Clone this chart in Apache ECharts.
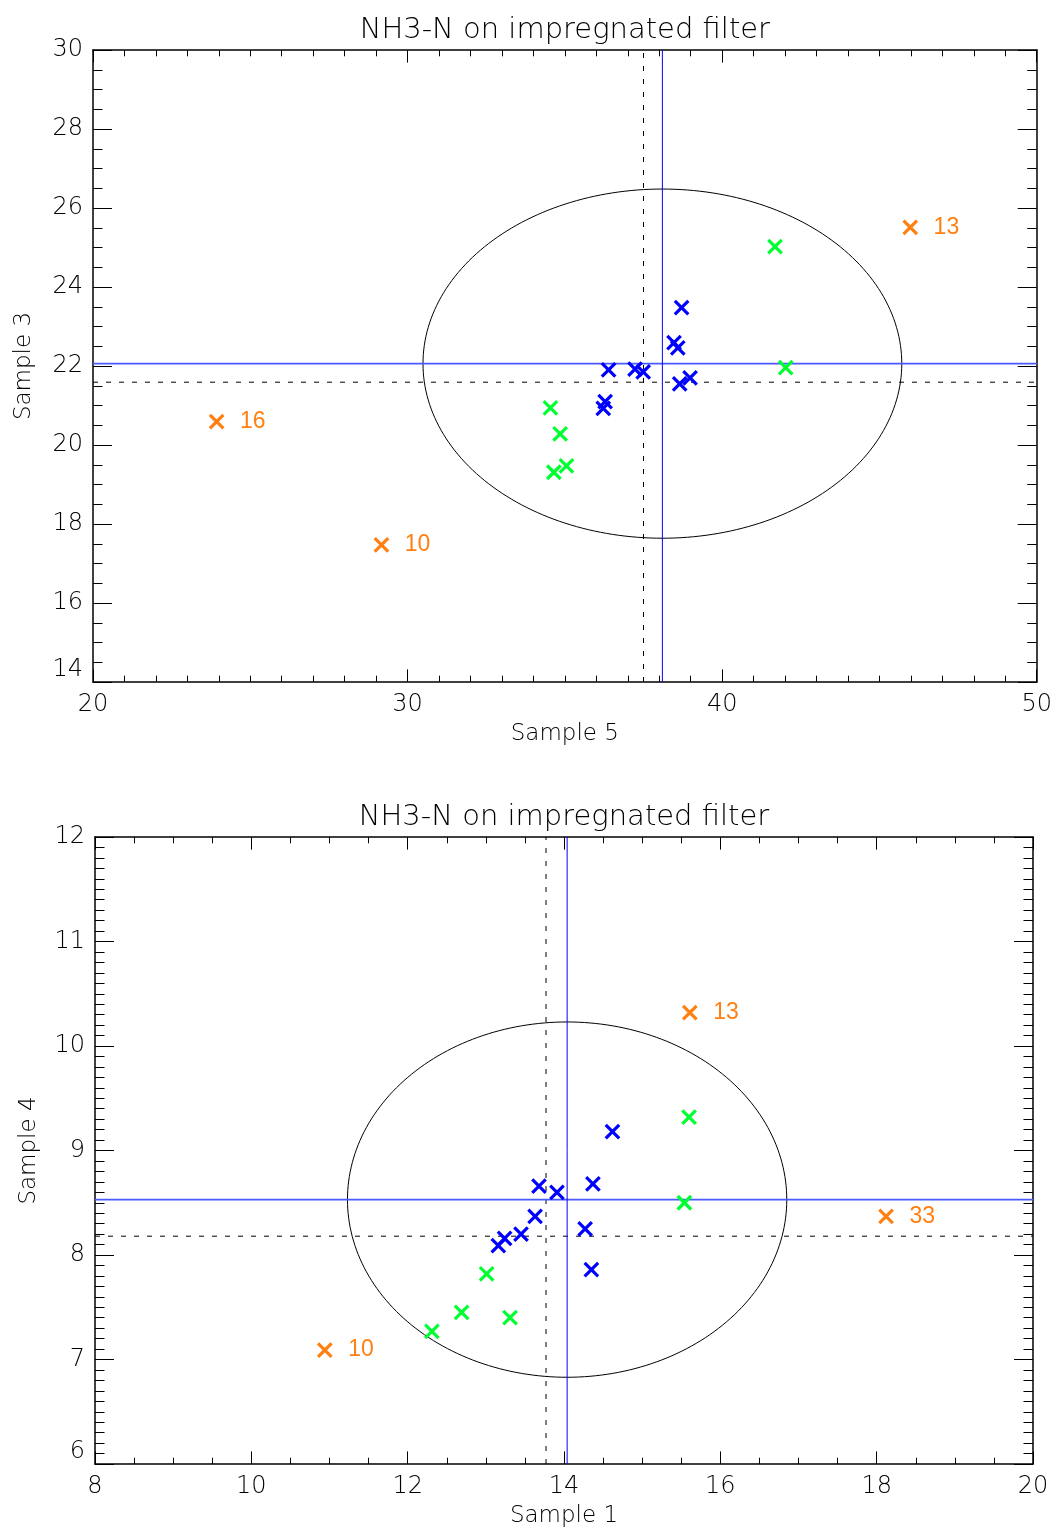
<!DOCTYPE html>
<html>
<head>
<meta charset="utf-8">
<script src="https://cdn.jsdelivr.net/npm/echarts@6/dist/echarts.min.js"></script>
<style>
  html, body { margin: 0; padding: 0; background: #fff; }
  #chart { width: 1055px; height: 1529px; }
</style>
</head>
<body>
<div id="chart"></div>
<script>
// ---- Panel 1: Sample 5 (x) vs Sample 3 (y) ----
const topXRange = [20, 50];
const topYRange = [14, 30];
const topBlueX = [38.71, 38.47, 38.59, 36.39, 37.23, 37.49, 38.98, 38.65, 36.28, 36.22];
const topBlueY = [23.48, 22.59, 22.46, 21.90, 21.92, 21.85, 21.70, 21.55, 21.10, 20.93];
const topGreenX = [41.68, 42.02, 34.54, 34.85, 34.65, 35.05];
const topGreenY = [25.02, 21.96, 20.94, 20.28, 19.31, 19.47];
const topOrangeX = [45.98, 23.93, 29.17];
const topOrangeY = [25.51, 20.59, 17.47];
const topOrangeId = ['13', '16', '10'];
const topSolid = [38.10, 22.06];   // blue cross-hair (x, y)
const topDashed = [37.50, 21.59];  // dashed cross-hair (x, y)
const topRadius = [7.61, 4.42];    // ellipse half-axes around the blue cross-hair

// ---- Panel 2: Sample 1 (x) vs Sample 4 (y) ----
const botXRange = [8, 20];
const botYRange = [6, 12];
const botBlueX = [14.62, 13.68, 13.91, 14.37, 13.63, 13.45, 13.24, 13.16, 14.27, 14.35];
const botBlueY = [9.18, 8.66, 8.60, 8.68, 8.37, 8.20, 8.16, 8.09, 8.25, 7.86];
const botGreenX = [15.60, 15.54, 13.01, 12.69, 13.31, 12.31];
const botGreenY = [9.32, 8.50, 7.82, 7.45, 7.40, 7.27];
const botOrangeX = [15.61, 18.12, 10.94];
const botOrangeY = [10.32, 8.37, 7.09];
const botOrangeId = ['13', '33', '10'];
const botSolid = [14.04, 8.53];
const botDashed = [13.77, 8.18];
const botRadius = [2.81, 1.70];

const titleText = 'NH3-N on impregnated filter';
const FONT = '"DejaVu Sans", sans-serif';
const BLUE = '#0000ff';
const GREEN = '#00ff30';
const ORANGE = '#ff7f10';

const zip = (xs, ys) => xs.map((x, i) => [x, ys[i]]);

function axis(grid, range, interval, split, len, minorLen, position, opts) {
  const a = {
    type: 'value', gridIndex: grid, position: position,
    min: range[0], max: range[1], interval: interval,
    axisLine: { show: true, onZero: false, lineStyle: { color: '#000', width: 1.5 } },
    axisTick: { show: true, inside: true, length: len, lineStyle: { color: '#000', width: 1 } },
    minorTick: { show: true, splitNumber: split, length: minorLen, lineStyle: { color: '#000', width: 1 } },
    splitLine: { show: false },
    axisLabel: { show: false }
  };
  return Object.assign(a, opts || {});
}

const labelStyle = { show: true, color: '#000', fontFamily: FONT, fontSize: 24, fontWeight: 200 };
const nameStyle = { color: '#000', fontFamily: FONT, fontSize: 23, fontWeight: 200 };
const titleStyle = { color: '#000', fontFamily: FONT, fontSize: 29, fontWeight: 200 };

const xAxes = [
  axis(0, topXRange, 10, 10, 12.6, 6.3, 'bottom', {
    name: 'Sample 5', nameLocation: 'middle', nameGap: 41, nameTextStyle: nameStyle,
    axisLabel: Object.assign({ margin: 11 }, labelStyle)
  }),
  axis(0, topXRange, 10, 10, 12.6, 6.3, 'top', {
    name: titleText, nameLocation: 'middle', nameGap: 5, nameTextStyle: titleStyle
  }),
  axis(1, botXRange, 2, 4, 12.6, 6.3, 'bottom', {
    name: 'Sample 1', nameLocation: 'middle', nameGap: 41, nameTextStyle: nameStyle,
    axisLabel: Object.assign({ margin: 11 }, labelStyle)
  }),
  axis(1, botXRange, 2, 4, 12.6, 6.3, 'top', {
    name: titleText, nameLocation: 'middle', nameGap: 5, nameTextStyle: titleStyle
  })
];

const yAxes = [
  axis(0, topYRange, 2, 4, 19, 9.5, 'left', {
    name: 'Sample 3', nameLocation: 'middle', nameGap: 57, nameTextStyle: nameStyle,
    axisLabel: Object.assign({ margin: 10, verticalAlignMinLabel: 'bottom' }, labelStyle)
  }),
  axis(0, topYRange, 2, 4, 19, 9.5, 'right'),
  axis(1, botYRange, 1, 10, 19, 9.5, 'left', {
    name: 'Sample 4', nameLocation: 'middle', nameGap: 54, nameTextStyle: nameStyle,
    axisLabel: Object.assign({ margin: 10, verticalAlignMinLabel: 'bottom' }, labelStyle)
  }),
  axis(1, botYRange, 1, 10, 19, 9.5, 'right')
];

const CROSS = 'path://M0 0L10 10M10 0L0 10';

function markers(xi, yi, data, color, ids) {
  const s = {
    type: 'scatter', xAxisIndex: xi, yAxisIndex: yi, z: 5,
    symbol: CROSS, symbolSize: 13.5,
    itemStyle: { color: 'rgba(0,0,0,0)', borderColor: color, borderWidth: 3.2, opacity: 1 },
    emphasis: { disabled: true },
    data: data
  };
  if (ids) {
    s.data = data.map((p, i) => ({ value: p, name: ids[i] }));
    s.label = {
      show: true, position: 'right', distance: 15, formatter: '{b}',
      color: color, fontFamily: '"Liberation Sans", Arial, sans-serif', fontSize: 23
    };
  }
  return s;
}

function refLine(xi, yi, pts, color, width, dashed) {
  return {
    type: 'line', xAxisIndex: xi, yAxisIndex: yi, z: 3, silent: true,
    symbol: 'none', data: pts,
    lineStyle: { color: color, width: width, type: dashed ? [5, 8] : 'solid' }
  };
}

function crosshairs(xi, yi, xr, yr, solid, dashed) {
  return [
    refLine(xi, yi, [[xr[0], dashed[1]], [xr[1], dashed[1]]], '#000', 1, true),
    refLine(xi, yi, [[dashed[0], yr[0]], [dashed[0], yr[1]]], '#000', 1, true),
    refLine(xi, yi, [[xr[0], solid[1]], [xr[1], solid[1]]], '#4a5aff', 1.6, false),
    refLine(xi, yi, [[solid[0], yr[0]], [solid[0], yr[1]]], BLUE, 1, false)
  ];
}

// ellipse outline traced through the axis scales
function ellipse(xi, yi, center, radius) {
  return {
    type: 'custom', xAxisIndex: xi, yAxisIndex: yi, z: 2, silent: true,
    data: [[center[0], center[1], radius[0], radius[1]]],
    renderItem: function (params, api) {
      const cx = api.value(0), cy = api.value(1), rx = api.value(2), ry = api.value(3);
      const pts = [];
      for (let k = 0; k <= 240; k++) {
        const t = (k / 240) * Math.PI * 2;
        pts.push(api.coord([cx + rx * Math.cos(t), cy + ry * Math.sin(t)]));
      }
      return { type: 'polyline', shape: { points: pts }, style: { stroke: '#000', fill: null, lineWidth: 1 } };
    }
  };
}

const option = {
  backgroundColor: '#fff',
  animation: false,
  grid: [
    { left: 93, top: 50, width: 944, height: 632 },
    { left: 95, top: 837, width: 938, height: 628 }
  ],
  xAxis: xAxes,
  yAxis: yAxes,
  series: [
    ellipse(0, 0, topSolid, topRadius),
    ...crosshairs(0, 0, topXRange, topYRange, topSolid, topDashed),
    markers(0, 0, zip(topBlueX, topBlueY), BLUE),
    markers(0, 0, zip(topGreenX, topGreenY), GREEN),
    markers(0, 0, zip(topOrangeX, topOrangeY), ORANGE, topOrangeId),

    ellipse(2, 2, botSolid, botRadius),
    ...crosshairs(2, 2, botXRange, botYRange, botSolid, botDashed),
    markers(2, 2, zip(botBlueX, botBlueY), BLUE),
    markers(2, 2, zip(botGreenX, botGreenY), GREEN),
    markers(2, 2, zip(botOrangeX, botOrangeY), ORANGE, botOrangeId)
  ]
};

const chart = echarts.init(document.getElementById('chart'), null, { renderer: 'canvas' });
chart.setOption(option);
</script>
</body>
</html>
